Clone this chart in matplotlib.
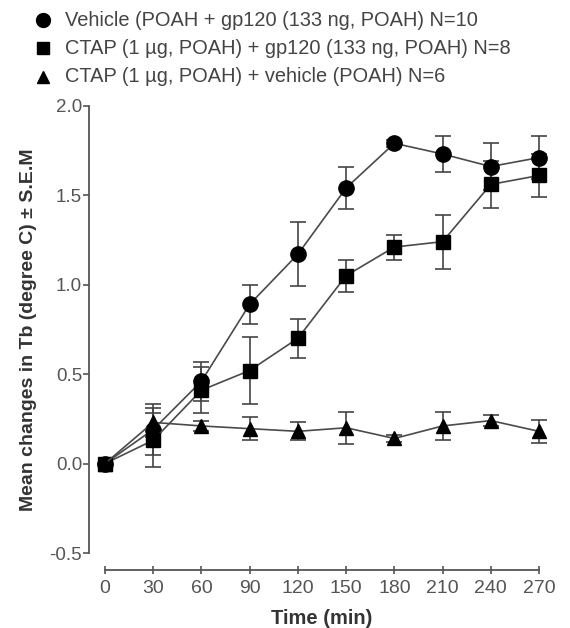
import matplotlib
matplotlib.use('Agg')
import matplotlib.pyplot as plt
from matplotlib.lines import Line2D

plt.rcParams['font.family'] = ['Liberation Sans', 'DejaVu Sans']

time_min = [0, 30, 60, 90, 120, 150, 180, 210, 240, 270]

vehicle_mean = [0.0, 0.19, 0.46, 0.89, 1.17, 1.54, 1.79, 1.73, 1.66, 1.71]
vehicle_sem = [0.0, 0.14, 0.11, 0.11, 0.18, 0.12, 0.02, 0.10, 0.13, 0.12]

ctap_gp120_mean = [0.0, 0.13, 0.41, 0.52, 0.70, 1.05, 1.21, 1.24, 1.56, 1.61]
ctap_gp120_sem = [0.0, 0.15, 0.13, 0.19, 0.11, 0.09, 0.07, 0.15, 0.13, 0.12]

ctap_vehicle_mean = [0.0, 0.23, 0.21, 0.195, 0.18, 0.20, 0.14, 0.21, 0.24, 0.18]
ctap_vehicle_sem = [0.0, 0.08, 0.03, 0.065, 0.05, 0.09, 0.02, 0.08, 0.03, 0.065]

labels = ['Vehicle (POAH + gp120 (133 ng, POAH) N=10',
          'CTAP (1 \u00b5g, POAH) + gp120 (133 ng, POAH) N=8',
          'CTAP (1 \u00b5g, POAH) + vehicle (POAH) N=6']
markers = ['o', 's', '^']
msizes = [11, 10, 10]

W, H = 570, 628
fig = plt.figure(figsize=(W / 100, H / 100), dpi=100)
ax = fig.add_axes([105 / W, 1 - 553 / H, 434 / W, (553 - 105.7) / H])

series = [(vehicle_mean, vehicle_sem), (ctap_gp120_mean, ctap_gp120_sem),
          (ctap_vehicle_mean, ctap_vehicle_sem)]
for (m, e), mk, ms in zip(series, markers, msizes):
    ax.errorbar(time_min, m, yerr=e, fmt='none', ecolor='#444444',
                elinewidth=1.2, capsize=5.5, capthick=1.2, clip_on=False, zorder=2)
    ax.plot(time_min, m, color='#4a4a4a', lw=1.2, marker=mk, ms=ms,
            mfc='black', mec='black', clip_on=False, zorder=3)

ax.set_xlim(0, 270)
ax.set_ylim(-0.5, 2.0)
ax.set_xticks(time_min)
ax.set_yticks([-0.5, 0.0, 0.5, 1.0, 1.5, 2.0])
ax.set_yticklabels(['-0.5', '0.0', '0.5', '1.0', '1.5', '2.0'])

for s in ['top', 'right']:
    ax.spines[s].set_visible(False)
ax.spines['left'].set_position(('outward', 11.5))
ax.spines['bottom'].set_position(('outward', 12.2))
for s in ['left', 'bottom']:
    ax.spines[s].set_color('#555555')
    ax.spines[s].set_linewidth(1.3)

ax.tick_params(axis='y', direction='out', length=4, width=1.2, color='#555555',
               labelsize=13.5, labelcolor='#555555', pad=1)
ax.tick_params(axis='x', direction='inout', length=6, width=1.2, color='#555555',
               labelsize=14, labelcolor='#555555', pad=4)

ax.set_xlabel('Time (min)', fontsize=14.5, fontweight='bold', color='#333333', labelpad=9)
ax.set_ylabel('Mean changes in Tb (degree C) \u00b1 S.E.M', fontsize=14,
              fontweight='bold', color='#333333', labelpad=9)

# legend drawn at the top of the figure
rows = [20, 48, 77]
for lab, mk, ms, yy in zip(labels, markers, msizes, rows):
    fig.add_artist(Line2D([43 / W], [1 - yy / H], marker=mk, ms=ms - 1,
                          mfc='black', mec='black', ls='none',
                          transform=fig.transFigure))
    fig.text(65 / W, 1 - yy / H, lab, fontsize=14.4, color='#444444',
             va='center', ha='left')

fig.savefig('out.png', dpi=100)
